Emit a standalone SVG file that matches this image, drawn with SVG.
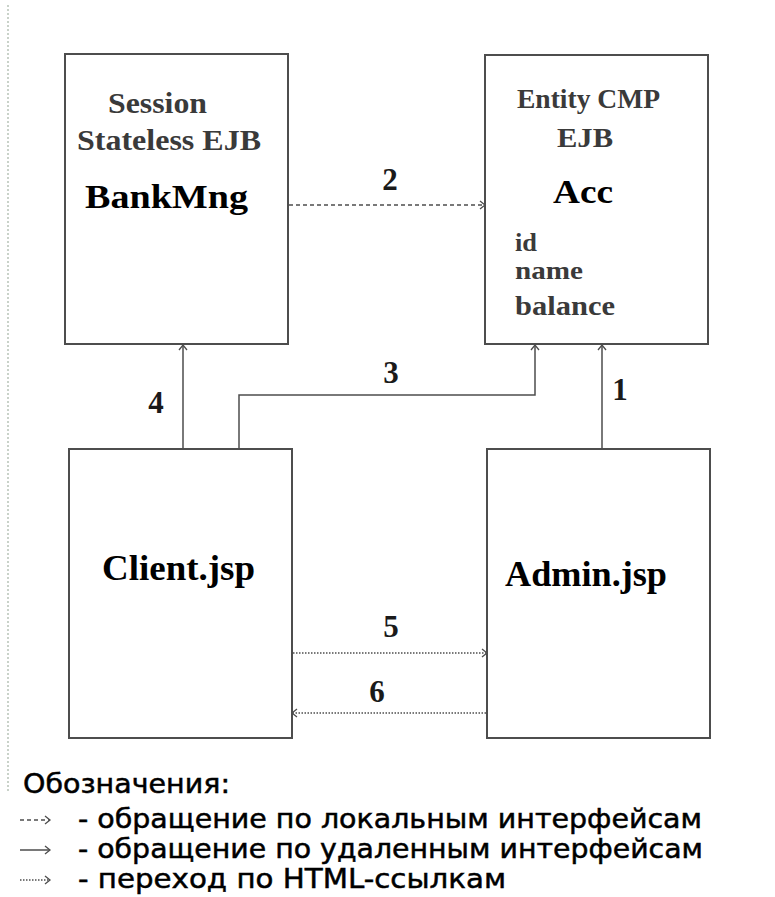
<svg xmlns="http://www.w3.org/2000/svg" width="775" height="897" viewBox="0 0 775 897">
<style>
.box{fill:#fff;stroke:#4d4d4d;stroke-width:2}
.sub{font-family:"Liberation Serif",serif;font-weight:bold;fill:#3a3a3a}
.main{font-family:"Liberation Serif",serif;font-weight:bold;fill:#000}
.num{font-family:"Liberation Serif",serif;font-weight:bold;fill:#1a1a1a;font-size:31px;text-anchor:middle}
.con{fill:none;stroke:#4d4d4d;stroke-width:1.5}
.dash{stroke-dasharray:4 3}
.dot{stroke-dasharray:1.5 1.5}
.leg{font-family:"DejaVu Sans","Liberation Sans",sans-serif;font-size:27px;fill:#000;stroke:#000;stroke-width:0.5}
</style>
<defs>
<marker id="ah" markerUnits="userSpaceOnUse" markerWidth="12" markerHeight="12" refX="10" refY="6" orient="auto">
<path d="M5,2 L10,6 L5,10" fill="none" stroke="#4d4d4d" stroke-width="1.3"/>
</marker>
</defs>
<rect width="775" height="897" fill="#fff"/>
<line x1="8" y1="5" x2="8" y2="792" stroke="#c9d2c9" stroke-width="2" stroke-dasharray="2 2"/>

<g id="connectors">
<line class="con dash" x1="289" y1="205" x2="485" y2="205" marker-end="url(#ah)"/>
<line class="con" x1="183" y1="449" x2="183" y2="345" marker-end="url(#ah)"/>
<polyline class="con" points="239,449 239,395 535,395 535,345" marker-end="url(#ah)"/>
<line class="con" x1="602" y1="449" x2="602" y2="345" marker-end="url(#ah)"/>
<line class="con dot" x1="293" y1="653" x2="487" y2="653" marker-end="url(#ah)"/>
<line class="con dot" x1="486" y1="713" x2="292" y2="713" marker-end="url(#ah)"/>
<text class="num" x="390" y="190">2</text>
<text class="num" x="156" y="413">4</text>
<text class="num" x="391" y="383">3</text>
<text class="num" x="620" y="400">1</text>
<text class="num" x="391" y="637">5</text>
<text class="num" x="377" y="702">6</text>
</g>

<g id="BankMng">
<rect class="box" x="65" y="54" width="223" height="290"/>
<text class="sub" x="108" y="113" font-size="29" textLength="99" lengthAdjust="spacingAndGlyphs">Session</text>
<text class="sub" x="77" y="150" font-size="29" textLength="184" lengthAdjust="spacingAndGlyphs">Stateless EJB</text>
<text class="main" x="85" y="208" font-size="33" textLength="163" lengthAdjust="spacingAndGlyphs">BankMng</text>
</g>

<g id="Acc">
<rect class="box" x="485" y="55" width="223" height="289"/>
<text class="sub" x="517" y="108" font-size="28" textLength="143" lengthAdjust="spacingAndGlyphs">Entity CMP</text>
<text class="sub" x="557" y="147" font-size="28" textLength="56" lengthAdjust="spacingAndGlyphs">EJB</text>
<text class="main" x="553" y="203" font-size="33" textLength="60" lengthAdjust="spacingAndGlyphs">Acc</text>
<text class="sub" x="515" y="251" font-size="25" textLength="22" lengthAdjust="spacingAndGlyphs">id</text>
<text class="sub" x="515" y="279" font-size="25" textLength="68" lengthAdjust="spacingAndGlyphs">name</text>
<text class="sub" x="515" y="315" font-size="27" textLength="100" lengthAdjust="spacingAndGlyphs">balance</text>
</g>

<g id="Client">
<rect class="box" x="69" y="449" width="223" height="289"/>
<text class="main" x="102" y="580" font-size="35" textLength="153" lengthAdjust="spacingAndGlyphs">Client.jsp</text>
</g>

<g id="Admin">
<rect class="box" x="487" y="449" width="223" height="289"/>
<text class="main" x="505" y="586" font-size="35" textLength="162" lengthAdjust="spacingAndGlyphs">Admin.jsp</text>
</g>

<g id="legend">
<text class="leg" x="23" y="793" textLength="207" lengthAdjust="spacingAndGlyphs">Обозначения:</text>
<line class="con dash" x1="20" y1="820" x2="50" y2="820" marker-end="url(#ah)"/>
<text class="leg" x="78" y="828" textLength="624" lengthAdjust="spacingAndGlyphs">- обращение по локальным интерфейсам</text>
<line class="con" x1="20" y1="850" x2="50" y2="850" marker-end="url(#ah)"/>
<text class="leg" x="78" y="858" textLength="625" lengthAdjust="spacingAndGlyphs">- обращение по удаленным интерфейсам</text>
<line class="con dot" x1="20" y1="880" x2="50" y2="880" marker-end="url(#ah)"/>
<text class="leg" x="78" y="888" textLength="428" lengthAdjust="spacingAndGlyphs">- переход по HTML-ссылкам</text>
</g>
</svg>
